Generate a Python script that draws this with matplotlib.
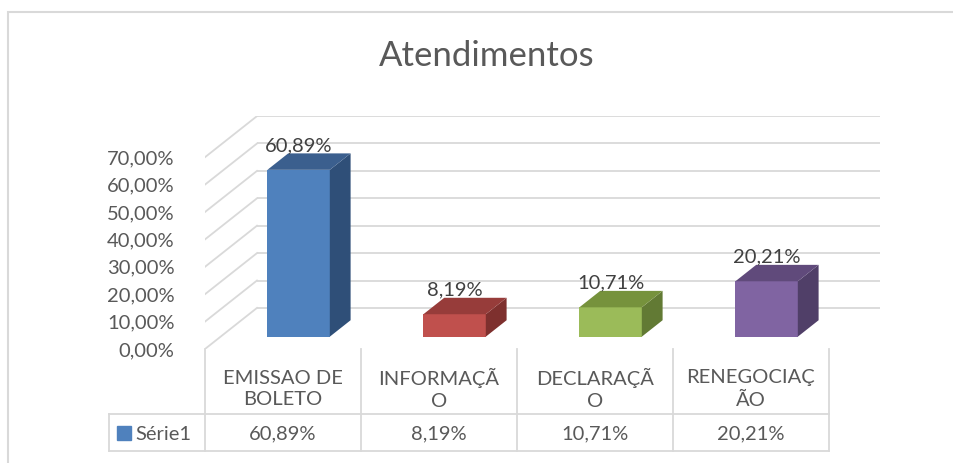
import matplotlib.pyplot as plt
from matplotlib.patches import Polygon, Rectangle

plt.rcParams['font.family'] = ['Lato', 'DejaVu Sans']

title = "Atendimentos"
series_name = "Série1"
categories = ["EMISSAO DE BOLETO", "INFORMAÇÃO", "DECLARAÇÃO", "RENEGOCIAÇÃO"]
cat_labels = ["EMISSAO DE\nBOLETO", "INFORMAÇÃ\nO", "DECLARAÇÃ\nO", "RENEGOCIAÇ\nÃO"]
values = [60.89, 8.19, 10.71, 20.21]
yticks = [0, 10, 20, 30, 40, 50, 60, 70]

front_cols = ['#4F81BD', '#C0504D', '#9BBB59', '#8064A2']
top_cols = ['#3B5F8E', '#973C3A', '#76923C', '#604A7B']
side_cols = ['#2F4F78', '#7E302E', '#627A34', '#503F68']

grid_c = '#d9d9d9'
text_c = '#595959'
fs = 14.5

def pct(v):
    return f"{v:.2f}%".replace('.', ',')

# oblique projection of the 3D box: depth 1 shifts by (DX categories, DY percent)
DX = 52 / 156
DY = 15.0
W = 0.40      # bar width in categories
Z0, Z1 = 0.3, 0.7  # bar depth span

fig = plt.figure(figsize=(9.54, 4.63), dpi=100)

# chart frame
fig.patches.append(Rectangle((8 / 954, -0.1), 1.2, 1 - 12 / 463 + 0.1,
                             transform=fig.transFigure, fill=False,
                             edgecolor=grid_c, lw=1.5))

fig.text(487 / 954, 1 - 56 / 463, title, ha='center', va='center',
         fontsize=25, color=text_c)

ax = fig.add_axes([205 / 954, 1 - 349 / 463, 675 / 954, 233 / 463])
ax.set_xlim(-0.5, -0.5 + 675 / 156)
ax.set_ylim(0, 233 / 2.74)
for s in ax.spines.values():
    s.set_visible(False)
ax.set_xticks([])
ax.set_yticks(yticks)
ax.set_yticklabels([pct(v) for v in yticks])
ax.tick_params(axis='y', length=0, pad=22, labelsize=fs, labelcolor=text_c)

n = len(values)
xl_wall, xr_wall = -0.5, n - 0.5

# walls gridlines
for v in yticks:
    ax.plot([xl_wall + DX, xr_wall + DX], [v + DY, v + DY], color=grid_c, lw=1.3,
            solid_capstyle='butt', zorder=1)
    ax.plot([xl_wall, xl_wall + DX], [v, v + DY], color=grid_c, lw=1.3, zorder=1)

# bars
for i, v in enumerate(values):
    xl = i - W / 2 + Z0 * DX
    xr = xl + W
    base = Z0 * DY
    top = base + v
    ddx = (Z1 - Z0) * DX
    ddy = (Z1 - Z0) * DY
    ax.add_patch(Polygon([(xl, base), (xr, base), (xr, top), (xl, top)],
                         closed=True, facecolor=front_cols[i], edgecolor='none', zorder=3))
    ax.add_patch(Polygon([(xr, base), (xr + ddx, base + ddy), (xr + ddx, top + ddy), (xr, top)],
                         closed=True, facecolor=side_cols[i], edgecolor='none', zorder=3))
    ax.add_patch(Polygon([(xl, top), (xr, top), (xr + ddx, top + ddy), (xl + ddx, top + ddy)],
                         closed=True, facecolor=top_cols[i], edgecolor='none', zorder=3))
    ax.text((xl + xr) / 2, top + ddy + 0.8, pct(v), ha='center', va='baseline',
            fontsize=fs, color='#404040', zorder=4)

# data table below the plot
px = 2.74  # pixels per percent
y_head = (349 - 414) / px
y_bot = (349 - 451) / px
x_leg = -0.5 - 96 / 156
for k in range(n + 1):
    ax.plot([k - 0.5, k - 0.5], [0, y_bot], color=grid_c, lw=1.3, clip_on=False)
ax.plot([x_leg, x_leg], [y_head, y_bot], color=grid_c, lw=1.3, clip_on=False)
ax.plot([x_leg, n - 0.5], [y_head, y_head], color=grid_c, lw=1.3, clip_on=False)
ax.plot([x_leg, n - 0.5], [y_bot, y_bot], color=grid_c, lw=1.3, clip_on=False)

for i, lab in enumerate(cat_labels):
    ax.text(i, (349 - 389) / px, lab, ha='center', va='center', fontsize=fs,
            color=text_c, linespacing=1.35, clip_on=False)
    ax.text(i, (349 - 434) / px, pct(values[i]), ha='center', va='center',
            fontsize=fs, color=text_c, clip_on=False)

ax.plot([-0.5 - 81 / 156], [(349 - 433) / px], marker='s', markersize=10,
        color=front_cols[0], clip_on=False)
ax.text(-0.5 - 70 / 156, (349 - 434) / px, series_name, ha='left', va='center',
        fontsize=fs, color=text_c, clip_on=False)

fig.savefig('out.png', dpi=100)
